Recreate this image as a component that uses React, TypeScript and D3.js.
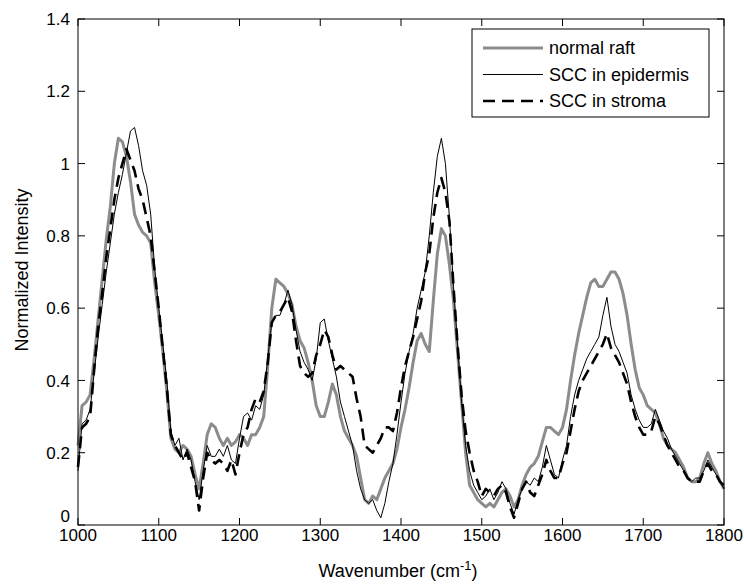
import React from "react";
import * as d3 from "d3";

// wavenumber grid (cm^-1)
const WAVENUMBERS = [
  1000, 1005, 1010, 1015, 1020, 1025, 1030, 1035, 1040, 1045,
  1050, 1055, 1060, 1065, 1070, 1075, 1080, 1085, 1090, 1095,
  1100, 1105, 1110, 1115, 1120, 1125, 1130, 1135, 1140, 1145,
  1150, 1155, 1160, 1165, 1170, 1175, 1180, 1185, 1190, 1195,
  1200, 1205, 1210, 1215, 1220, 1225, 1230, 1235, 1240, 1245,
  1250, 1255, 1260, 1265, 1270, 1275, 1280, 1285, 1290, 1295,
  1300, 1305, 1310, 1315, 1320, 1325, 1330, 1335, 1340, 1345,
  1350, 1355, 1360, 1365, 1370, 1375, 1380, 1385, 1390, 1395,
  1400, 1405, 1410, 1415, 1420, 1425, 1430, 1435, 1440, 1445,
  1450, 1455, 1460, 1465, 1470, 1475, 1480, 1485, 1490, 1495,
  1500, 1505, 1510, 1515, 1520, 1525, 1530, 1535, 1540, 1545,
  1550, 1555, 1560, 1565, 1570, 1575, 1580, 1585, 1590, 1595,
  1600, 1605, 1610, 1615, 1620, 1625, 1630, 1635, 1640, 1645,
  1650, 1655, 1660, 1665, 1670, 1675, 1680, 1685, 1690, 1695,
  1700, 1705, 1710, 1715, 1720, 1725, 1730, 1735, 1740, 1745,
  1750, 1755, 1760, 1765, 1770, 1775, 1780, 1785, 1790, 1795,
  1800,
];

const NORMAL_RAFT = [
  0.22, 0.33, 0.34, 0.36, 0.46, 0.57, 0.68, 0.79, 0.88, 1.00,
  1.07, 1.06, 1.02, 0.95, 0.86, 0.83, 0.81, 0.80, 0.78, 0.67,
  0.58, 0.48, 0.37, 0.24, 0.21, 0.20, 0.22, 0.21, 0.19, 0.14,
  0.10, 0.17, 0.25, 0.28, 0.27, 0.24, 0.22, 0.24, 0.22, 0.23,
  0.25, 0.24, 0.22, 0.25, 0.25, 0.27, 0.30, 0.44, 0.60, 0.68,
  0.67, 0.66, 0.64, 0.61, 0.55, 0.51, 0.49, 0.45, 0.40, 0.33,
  0.30, 0.30, 0.34, 0.39, 0.36, 0.30, 0.26, 0.24, 0.22, 0.19,
  0.13, 0.07, 0.06, 0.08, 0.07, 0.10, 0.13, 0.15, 0.17, 0.21,
  0.27, 0.32, 0.38, 0.45, 0.51, 0.53, 0.50, 0.48, 0.62, 0.75,
  0.82, 0.80, 0.72, 0.62, 0.48, 0.34, 0.20, 0.11, 0.09, 0.07,
  0.06, 0.05, 0.06, 0.05, 0.07, 0.09, 0.10, 0.08, 0.05, 0.07,
  0.11, 0.14, 0.16, 0.17, 0.19, 0.23, 0.27, 0.27, 0.26, 0.25,
  0.27, 0.32, 0.40, 0.47, 0.53, 0.58, 0.63, 0.67, 0.68, 0.66,
  0.66, 0.68, 0.70, 0.70, 0.68, 0.64, 0.58, 0.50, 0.43, 0.38,
  0.36, 0.33, 0.32, 0.31, 0.28, 0.24, 0.22, 0.21, 0.20, 0.18,
  0.16, 0.13, 0.12, 0.12, 0.13, 0.17, 0.20, 0.17, 0.15, 0.12,
  0.10,
];

const SCC_EPIDERMIS = [
  0.15, 0.28, 0.29, 0.32, 0.42, 0.52, 0.61, 0.70, 0.78, 0.86,
  0.92, 0.97, 1.03, 1.09, 1.10, 1.05, 0.98, 0.94, 0.86, 0.71,
  0.60, 0.50, 0.40, 0.26, 0.22, 0.24, 0.18, 0.21, 0.18, 0.12,
  0.07, 0.15, 0.22, 0.19, 0.19, 0.21, 0.19, 0.22, 0.18, 0.17,
  0.24, 0.30, 0.31, 0.29, 0.33, 0.32, 0.36, 0.46, 0.56, 0.58,
  0.58, 0.61, 0.65, 0.61, 0.54, 0.48, 0.45, 0.43, 0.40, 0.46,
  0.56, 0.57, 0.51, 0.46, 0.41, 0.34, 0.30, 0.26, 0.22, 0.15,
  0.10, 0.07, 0.06, 0.07, 0.04, 0.02, 0.06, 0.12, 0.17, 0.25,
  0.34, 0.42, 0.48, 0.53, 0.60, 0.65, 0.70, 0.80, 0.92, 1.02,
  1.07, 1.00, 0.85, 0.66, 0.50, 0.34, 0.22, 0.15, 0.11, 0.09,
  0.07, 0.08, 0.10, 0.07, 0.09, 0.12, 0.10, 0.06, 0.03, 0.07,
  0.10, 0.12, 0.11, 0.13, 0.12, 0.16, 0.22, 0.18, 0.14, 0.13,
  0.18, 0.22, 0.30, 0.36, 0.40, 0.43, 0.46, 0.48, 0.50, 0.52,
  0.58, 0.63, 0.55, 0.50, 0.48, 0.45, 0.42, 0.36, 0.32, 0.29,
  0.27, 0.27, 0.28, 0.32, 0.29, 0.26, 0.24, 0.21, 0.19, 0.17,
  0.15, 0.13, 0.12, 0.13, 0.13, 0.15, 0.18, 0.16, 0.14, 0.12,
  0.10,
];

const SCC_STROMA = [
  0.16, 0.27, 0.28, 0.30, 0.43, 0.55, 0.64, 0.74, 0.82, 0.90,
  0.96, 1.00, 1.04, 1.01, 0.98, 0.93, 0.90, 0.85, 0.80, 0.70,
  0.60, 0.49, 0.38, 0.25, 0.22, 0.20, 0.18, 0.20, 0.16, 0.12,
  0.04, 0.13, 0.20, 0.18, 0.17, 0.18, 0.17, 0.15, 0.18, 0.14,
  0.20, 0.25, 0.27, 0.32, 0.35, 0.34, 0.37, 0.45, 0.56, 0.58,
  0.59, 0.61, 0.63, 0.59, 0.51, 0.44, 0.42, 0.41, 0.42, 0.47,
  0.50, 0.54, 0.52, 0.47, 0.43, 0.44, 0.43, 0.42, 0.41, 0.35,
  0.30, 0.22, 0.21, 0.20, 0.22, 0.24, 0.27, 0.27, 0.26, 0.31,
  0.38, 0.44, 0.48, 0.52, 0.57, 0.62, 0.70, 0.75, 0.85, 0.92,
  0.96, 0.92, 0.84, 0.66, 0.50, 0.36, 0.26, 0.20, 0.15, 0.12,
  0.08, 0.10, 0.09, 0.08, 0.10, 0.11, 0.09, 0.05, 0.02, 0.06,
  0.10, 0.12, 0.09, 0.08, 0.11, 0.14, 0.18, 0.15, 0.13, 0.13,
  0.17, 0.20, 0.26, 0.32, 0.37, 0.40, 0.42, 0.44, 0.46, 0.48,
  0.50, 0.53, 0.49, 0.47, 0.45, 0.42, 0.39, 0.34, 0.30, 0.27,
  0.25, 0.25, 0.26, 0.30, 0.28, 0.25, 0.22, 0.20, 0.18, 0.16,
  0.15, 0.13, 0.12, 0.12, 0.12, 0.15, 0.17, 0.15, 0.14, 0.12,
  0.11,
];

const X_TICKS = [1000, 1100, 1200, 1300, 1400, 1500, 1600, 1700, 1800];
const Y_TICKS = [0, 0.2, 0.4, 0.6, 0.8, 1, 1.2, 1.4];

const SERIES = [
  { name: "normal raft", values: NORMAL_RAFT, color: "#8c8c8c", width: 3, dash: "" },
  { name: "SCC in epidermis", values: SCC_EPIDERMIS, color: "#000", width: 1, dash: "" },
  { name: "SCC in stroma", values: SCC_STROMA, color: "#000", width: 2.6, dash: "12,7" },
];

const W = 744;
const H = 586;
const margin = { top: 19, right: 20, bottom: 61, left: 78 };
const FONT = "'Liberation Sans', Arial, sans-serif";

export default function App() {
  const innerW = W - margin.left - margin.right;
  const innerH = H - margin.top - margin.bottom;

  const x = d3.scaleLinear().domain([1000, 1800]).range([0, innerW]);
  const y = d3.scaleLinear().domain([0, 1.4]).range([innerH, 0]);

  const line = d3
    .line<number>()
    .x((_, i) => x(WAVENUMBERS[i]))
    .y((d) => y(d));

  const tick = 7;
  const fmt = (v: number) => (v === 0 ? "0" : d3.format("~g")(v));

  // legend placement (relative to plot area)
  const lg = { x: 394, y: 10, w: 237, h: 88, row: 26.5 };

  return (
    <svg
      width={W}
      height={H}
      style={{ position: "absolute", left: 0, top: 0, background: "#fff" }}
      fontFamily={FONT}
    >
      <rect width={W} height={H} fill="#fff" />
      <g transform={`translate(${margin.left},${margin.top})`}>
        {/* curves */}
        {SERIES.map((s) => (
          <path
            key={s.name}
            d={line(s.values) || ""}
            fill="none"
            stroke={s.color}
            strokeWidth={s.width}
            strokeDasharray={s.dash || undefined}
            strokeLinejoin="round"
          />
        ))}

        {/* axes box */}
        <rect x={0} y={0} width={innerW} height={innerH} fill="none" stroke="#000" strokeWidth={1} />

        {/* x ticks */}
        {X_TICKS.map((t) => (
          <g key={"x" + t}>
            <line x1={x(t)} x2={x(t)} y1={innerH} y2={innerH - tick} stroke="#000" />
            <line x1={x(t)} x2={x(t)} y1={0} y2={tick} stroke="#000" />
            <text x={x(t)} y={innerH + 16} textAnchor="middle" fontSize={17}>
              {t}
            </text>
          </g>
        ))}

        {/* y ticks */}
        {Y_TICKS.map((t) => (
          <g key={"y" + t}>
            <line x1={0} x2={tick} y1={y(t)} y2={y(t)} stroke="#000" />
            <line x1={innerW} x2={innerW - tick} y1={y(t)} y2={y(t)} stroke="#000" />
            <text
              x={-8}
              y={t === 0 ? y(t) - 9 : y(t)}
              dy="0.36em"
              textAnchor="end"
              fontSize={17}
            >
              {fmt(t)}
            </text>
          </g>
        ))}

        {/* axis labels */}
        <text x={innerW / 2 - 3} y={innerH + 52} textAnchor="middle" fontSize={18}>
          Wavenumber (cm
          <tspan dy={-7} fontSize={13}>-1</tspan>
          <tspan dy={7}>)</tspan>
        </text>
        <text
          transform={`translate(${-50},${innerH / 2 - 2}) rotate(-90)`}
          textAnchor="middle"
          fontSize={18}
        >
          Normalized Intensity
        </text>

        {/* legend */}
        <g transform={`translate(${lg.x},${lg.y})`}>
          <rect width={lg.w} height={lg.h} fill="#fff" stroke="#000" strokeWidth={1} />
          {SERIES.map((s, i) => {
            const cy = 19 + i * lg.row;
            return (
              <g key={"lg" + s.name}>
                <line
                  x1={11}
                  x2={71}
                  y1={cy}
                  y2={cy}
                  stroke={s.color}
                  strokeWidth={s.width}
                  strokeDasharray={s.dash || undefined}
                />
                <text x={77} y={cy} dy="0.36em" fontSize={18}>
                  {s.name}
                </text>
              </g>
            );
          })}
        </g>
      </g>
    </svg>
  );
}
